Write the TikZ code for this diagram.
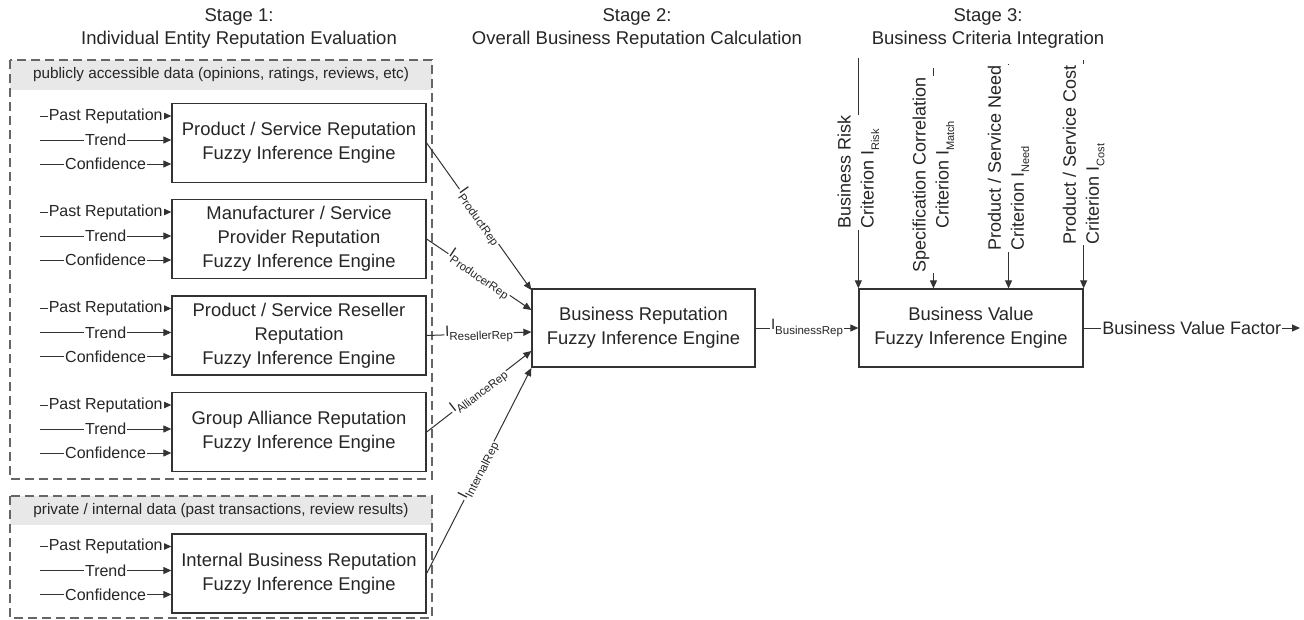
\documentclass[tikz,border=0pt]{standalone}
\usepackage{fontspec}
\setmainfont{Liberation Sans}
\usetikzlibrary{arrows.meta}
\newcommand{\isub}[2]{#1\raisebox{-0.3em}{\fontsize{11.5}{12}\selectfont #2}}
\newcommand{\csub}[2]{#1\raisebox{-0.3em}{\fontsize{11}{12}\selectfont #2}}
\begin{document}
\begin{tikzpicture}[x=1pt,y=-1pt,
 every node/.style={text=black!85},
 engine/.style={draw=black!80, line width=1.3pt, fill=white, minimum width=254pt, minimum height=79pt, inner sep=0pt, align=center, font=\fontsize{18.4}{24}\selectfont},
 arr/.style={draw=black!80, line width=1pt, -{Triangle[length=8pt,width=7pt]}},
 lab/.style={fill=white, inner sep=1pt, font=\fontsize{16}{18}\selectfont},
 elab/.style={fill=white, inner sep=1pt, font=\fontsize{15}{16}\selectfont},
 crit/.style={fill=white, inner sep=1pt, rotate=90, font=\fontsize{18}{23}\selectfont},
 dashbox/.style={draw=black!60, line width=1.2pt, dash pattern=on 9pt off 5pt},
 band/.style={fill=black!9},
 bandtext/.style={font=\fontsize{15.3}{17}\selectfont},
 head/.style={align=center, font=\fontsize{18.5}{23}\selectfont}]
\useasboundingbox[fill=white] (0,0) rectangle (1304,619);

% headings
\node[head] (h1) at (239,28.5) {Stage 1:\\Individual Entity Reputation Evaluation};
\node[head] (h2) at (637,28.5) {Stage 2:\\Overall Business Reputation Calculation};
\node[head] (h3) at (988,28.5) {Stage 3:\\Business Criteria Integration};

% data groups
\fill[band] (10,60) rectangle (432,90);
\node[bandtext] (g1) at (221,75) {publicly accessible data (opinions, ratings, reviews, etc)};
\draw[dashbox] (10,60) rectangle (432,479);
\fill[band] (10,496) rectangle (432,525);
\node[bandtext] (g2) at (221,511) {private / internal data (past transactions, review results)};
\draw[dashbox] (10,496) rectangle (432,618);

% engines
\node[engine] (b1) at (299,143) {Product / Service Reputation\\Fuzzy Inference Engine};
\node[engine] (b2) at (299,239) {Manufacturer / Service\\Provider Reputation\\Fuzzy Inference Engine};
\node[engine] (b3) at (299,335.5) {Product / Service Reseller\\Reputation\\Fuzzy Inference Engine};
\node[engine] (b4) at (299,432) {Group Alliance Reputation\\Fuzzy Inference Engine};
\node[engine] (b5) at (299,573.5) {Internal Business Reputation\\Fuzzy Inference Engine};

\coordinate (L) at (40,0);
\foreach \n in {b1,b2,b3,b4,b5}{
  \coordinate (\n-pr) at ([yshift=27pt]\n.west);
  \coordinate (\n-tr) at ([yshift=3pt]\n.west);
  \coordinate (\n-cf) at ([yshift=-21pt]\n.west);
  \draw[arr] (L |- \n-pr) -- node[lab]{Past Reputation} (\n-pr);
  \draw[arr] (L |- \n-tr) -- node[lab]{Trend} (\n-tr);
  \draw[arr] (L |- \n-cf) -- node[lab]{Confidence} (\n-cf);
}

% business reputation engine
\node[engine, minimum width=223pt, minimum height=78pt] (m) at (643.5,328) {Business Reputation\\Fuzzy Inference Engine};
\coordinate (m1) at ([yshift=38pt]m.west);
\coordinate (m2) at ([yshift=18pt]m.west);
\coordinate (m3) at ([yshift=-4pt]m.west);
\coordinate (m4) at ([yshift=-23pt]m.west);
\coordinate (m5) at ([yshift=-40pt]m.west);
\draw[arr] (b1.east) -- node[elab, sloped]{\isub{I}{ProductRep}} (m1);
\draw[arr] (b2.east) -- node[elab, sloped]{\isub{I}{ProducerRep}} (m2);
\draw[arr] (b3.east) -- node[elab, sloped]{\isub{I}{ResellerRep}} (m3);
\draw[arr] (b4.east) -- node[elab, sloped]{\isub{I}{AllianceRep}} (m4);
\draw[arr] (b5.east) -- node[elab, sloped]{\isub{I}{InternalRep}} (m5);

% business value engine
\node[engine, minimum width=224pt, minimum height=78pt] (r) at (971,328) {Business Value\\Fuzzy Inference Engine};
\draw[arr] (m.east) -- node[elab]{\isub{I}{BusinessRep}} (r.west);

\path (r.north west) -- (r.north east) coordinate[pos=1/3] (c2b) coordinate[pos=2/3] (c3b);
\coordinate (c1) at (r.north west |- 0,58);
\coordinate (c2) at (c2b |- 0,68);
\coordinate (c3) at (c3b |- 0,64);
\coordinate (c4) at (r.north east |- 0,60);
\draw[arr] (c1) -- node[crit, align=left, pos=0.495]{Business Risk\\Criterion \csub{I}{Risk}} (c1 |- r.north);
\draw[arr] (c2) -- node[crit, align=center, pos=0.485]{Specification Correlation\\Criterion \csub{I}{Match}} (c2b);
\draw[arr] (c3) -- node[crit, align=left, pos=0.42]{Product / Service Need\\Criterion \csub{I}{Need}} (c3b);
\draw[arr] (c4) -- node[crit, align=left, pos=0.415]{Product / Service Cost\\Criterion \csub{I}{Cost}} (c4 |- r.north);

\coordinate (out) at (1300,328);
\draw[arr] (r.east) -- node[lab, font=\fontsize{18}{20}\selectfont]{Business Value Factor} (out);
\end{tikzpicture}
\end{document}
